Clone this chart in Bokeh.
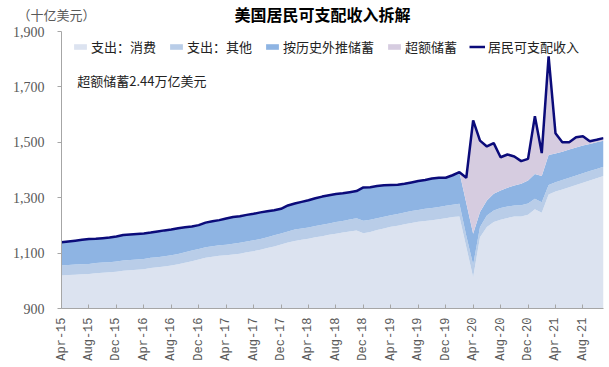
import pandas as pd
from bokeh.plotting import figure
from bokeh.layouts import column
from bokeh.models import (ColumnDataSource, FixedTicker, NumeralTickFormatter, Label,
                          Legend, LegendItem, Range1d)
from bokeh.embed import file_html
from bokeh.resources import INLINE
import math

# ---- data (billions USD, monthly) ----
months = [d.strftime("%b-%y") for d in pd.date_range("2015-04-01", "2021-11-01", freq="MS")]

consumption = [1019, 1021, 1022, 1024, 1025, 1027, 1029, 1031, 1033, 1036,
               1038, 1040, 1042, 1046, 1049, 1052, 1055, 1060, 1065, 1071,
               1077, 1083, 1087, 1090, 1092, 1095, 1098, 1103, 1107, 1112,
               1118, 1124, 1131, 1138, 1144, 1148, 1152, 1157, 1161, 1166,
               1170, 1174, 1178, 1182, 1172, 1176, 1183, 1189, 1195, 1199,
               1204, 1209, 1213, 1216, 1219, 1222, 1226, 1230, 1232, 1122,
               1013, 1157, 1194, 1212, 1220, 1227, 1232, 1232, 1238, 1258,
               1246, 1312, 1322, 1330, 1338, 1346, 1354, 1362, 1370, 1378]

other_outlays = [36, 36, 37, 36, 36, 37, 37, 36, 37, 37,
                 37, 37, 37, 37, 36, 37, 37, 37, 38, 38,
                 38, 38, 38, 38, 38, 39, 39, 39, 39, 39,
                 39, 40, 40, 40, 41, 41, 40, 41, 41, 41,
                 42, 42, 43, 44, 45, 44, 43, 42, 42, 42,
                 43, 43, 43, 44, 44, 44, 45, 45, 46, 41,
                 45, 37, 42, 42, 43, 41, 40, 41, 41, 38,
                 38, 34, 34, 34, 34, 34, 34, 34, 34, 34]

trend_savings = [84, 85, 86, 88, 90, 88, 88, 89, 90, 92,
                 92, 92, 92, 91, 93, 93, 93, 93, 90, 87,
                 86, 89, 90, 91, 95, 96, 96, 96, 96, 96,
                 94, 91, 89, 94, 94, 96, 99, 100, 102, 102,
                 101, 100, 99, 98, 120, 118, 116, 114, 109, 106,
                 103, 103, 104, 104, 106, 106, 101, 106, 114, 118,
                 112, 54, 54, 60, 63, 68, 72, 77, 83, 90,
                 94, 108, 104, 102, 102, 101, 100, 98, 96, 94]

excess_savings = [0] * 59 + [91,
                  409, 258, 195, 183, 120, 120, 105, 82, 78, 208,
                  83, 356, 73, 34, 26, 37, 34, 10, 9, 9]

income = [1139, 1142, 1145, 1148, 1151, 1152, 1154, 1156, 1160, 1165,
          1167, 1169, 1171, 1174, 1178, 1182, 1185, 1190, 1193, 1196,
          1201, 1210, 1215, 1219, 1225, 1230, 1233, 1238, 1242, 1247,
          1251, 1255, 1260, 1272, 1279, 1285, 1291, 1298, 1304, 1309,
          1313, 1316, 1320, 1324, 1337, 1338, 1342, 1345, 1346, 1347,
          1350, 1355, 1360, 1364, 1369, 1372, 1372, 1381, 1392, 1372,
          1579, 1506, 1485, 1497, 1446, 1456, 1449, 1432, 1440, 1594,
          1461, 1810, 1533, 1500, 1500, 1518, 1522, 1504, 1509, 1515]

series_names = ["支出：消费", "支出：其他", "按历史外推储蓄", "超额储蓄"]
line_name = "居民可支配收入"
chart_title = "美国居民可支配收入拆解"
unit_text = "（十亿美元）"
note_text = "超额储蓄2.44万亿美元"
tick_positions = list(range(0, len(months), 4))

CJK = "Noto Sans CJK SC"
HEADER_H = 24
W = 609

# ---- header strip with the title and the unit label ----
head = figure(width=W, height=HEADER_H, output_backend="svg", toolbar_location=None,
              x_range=Range1d(0, W), y_range=Range1d(HEADER_H, 0),
              x_axis_location=None, y_axis_location=None,
              min_border=0, outline_line_color=None, background_fill_color="white")
head.xgrid.visible = False
head.ygrid.visible = False

# ---- main chart ----
src = ColumnDataSource(dict(
    x=list(range(len(months))),
    cons=consumption, other=other_outlays, trend=trend_savings,
    excess=excess_savings, income=income,
))

p = figure(width=W, height=367 - HEADER_H, output_backend="svg", toolbar_location=None,
           title_location=None,
           x_range=(0, len(months) - 1), y_range=(900, 1900),
           min_border_left=61, min_border_right=6, min_border_top=31 - HEADER_H,
           min_border_bottom=59,
           outline_line_color=None, background_fill_color="white")
p.xgrid.visible = False
p.ygrid.visible = False

# keep the header's frame independent of the chart's frame
if "frame_align" in head.properties():
    head.frame_align = False
    p.frame_align = False
    unit_x, title_x = 17, 322
else:
    # frames stay aligned: header frame spans the chart frame horizontally
    head.x_range = Range1d(61, 603)
    unit_x, title_x = 62, 322

head.add_layout(Label(x=title_x, y=13, text=chart_title, text_font=CJK,
                      text_font_size="16px", text_font_style="bold", text_align="center",
                      text_baseline="middle", text_color="#000000"))
head.add_layout(Label(x=unit_x, y=14, text=unit_text, text_font=CJK,
                      text_font_size="13px", text_align="left", text_baseline="middle",
                      text_color="#595959"))

colors = ["#DCE3F0", "#B9CDE8", "#8EB4E3", "#D6CCE0"]
areas = p.varea_stack(["cons", "other", "trend", "excess"], x="x", source=src, color=colors)
ln = p.line("x", "income", source=src, line_color="#0B0B7A", line_width=2.5)

# axes
p.yaxis.ticker = FixedTicker(ticks=[900, 1100, 1300, 1500, 1700, 1900])
p.yaxis.formatter = NumeralTickFormatter(format="0,0")
p.yaxis.major_label_text_font = "Liberation Serif"
p.yaxis.major_label_text_font_size = "14px"
p.yaxis.major_label_text_color = "#595959"
p.yaxis.major_label_standoff = 13
p.yaxis.major_tick_out = 4
p.yaxis.major_tick_in = 0
p.yaxis.minor_tick_line_color = None
p.yaxis.axis_line_color = "#A6A6A6"
p.yaxis.major_tick_line_color = "#A6A6A6"

p.xaxis.ticker = FixedTicker(ticks=tick_positions)
p.xaxis.major_label_overrides = {i: months[i] for i in tick_positions}
p.xaxis.major_label_orientation = math.pi / 2
p.xaxis.major_label_text_font = "Liberation Mono"
p.xaxis.major_label_text_font_size = "12px"
p.xaxis.major_label_text_color = "#595959"
p.xaxis.major_label_standoff = 9
p.xaxis.major_tick_in = 4
p.xaxis.major_tick_out = 0
p.xaxis.minor_tick_line_color = None
p.xaxis.axis_line_color = "#A6A6A6"
p.xaxis.major_tick_line_color = "#A6A6A6"

# legend
items = [LegendItem(label=n, renderers=[r]) for n, r in zip(series_names, areas)]
items.append(LegendItem(label=line_name, renderers=[ln]))
legend = Legend(items=items, orientation="horizontal", location=(11, 252),
                label_text_font=CJK, label_text_font_size="13px", label_text_color="#222222",
                glyph_width=16, glyph_height=7, label_standoff=3, spacing=12,
                padding=0, margin=0, border_line_color=None, background_fill_alpha=0,
                label_height=16)
p.add_layout(legend, "center")

p.add_layout(Label(x=2.3, y=1723, text=note_text, text_font=CJK,
                   text_font_size="13px", text_align="left", text_baseline="middle",
                   text_color="#222222"))

layout = column(head, p, spacing=0)
open("out.html", "w").write(file_html(layout, INLINE))
